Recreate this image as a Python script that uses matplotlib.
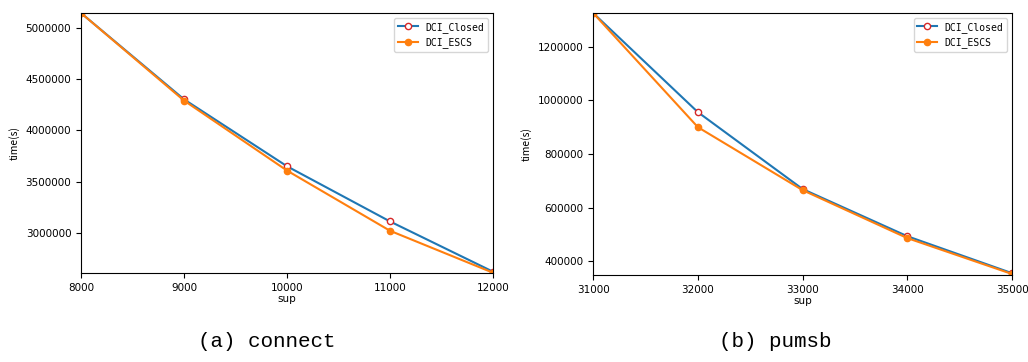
import matplotlib
matplotlib.use('Agg')
import matplotlib.pyplot as plt

# connect
sup_connect = [8000, 9000, 10000, 11000, 12000]
closed_connect = [5147000, 4304000, 3650000, 3111000, 2620000]
escs_connect = [5147000, 4292000, 3608000, 3020000, 2610000]

# pumsb
sup_pumsb = [31000, 32000, 33000, 34000, 35000]
closed_pumsb = [1326000, 956000, 669000, 493000, 355000]
escs_pumsb = [1326000, 900000, 665000, 486000, 352000]

captions = ['(a) connect', '(b) pumsb']

plt.rc('xtick', labelsize=7.5)
plt.rc('ytick', labelsize=7.5)
fig = plt.figure(figsize=(10.28, 3.62), dpi=100)

ax1 = fig.add_axes([0.0788, 0.246, 0.4008, 0.718])
ax2 = fig.add_axes([0.577, 0.240, 0.4076, 0.724])

panels = [
    (ax1, sup_connect, closed_connect, escs_connect, (2608000, 5147000)),
    (ax2, sup_pumsb, closed_pumsb, escs_pumsb, (348000, 1326000)),
]

for ax, sup, closed, escs, ylim in panels:
    ax.plot(sup, closed, color='#1f77b4', marker='o', markersize=4.5,
            markerfacecolor='white', markeredgecolor='#d62728',
            linewidth=1.5, label='DCI_Closed')
    ax.plot(sup, escs, color='#ff7f0e', marker='o', markersize=4.5,
            linewidth=1.5, label='DCI_ESCS')
    ax.set_xlim(sup[0], sup[-1])
    ax.set_ylim(*ylim)
    ax.set_xticks(sup)
    ax.set_xlabel('sup', fontsize=7.5, labelpad=1)
    ax.set_ylabel('time(s)', fontsize=7.5, family=['Noto Sans CJK SC', 'DejaVu Sans'])
    ax.ticklabel_format(axis='y', style='plain', useOffset=False)
    ax.legend(loc='upper right', prop={'family': 'DejaVu Sans Mono', 'size': 7})

fig.text(0.259, 0.058, captions[0], fontsize=15, family='Liberation Mono',
         ha='center', va='center')
fig.text(0.754, 0.058, captions[1], fontsize=15, family='Liberation Mono',
         ha='center', va='center')

plt.savefig('out.png', dpi=100)
